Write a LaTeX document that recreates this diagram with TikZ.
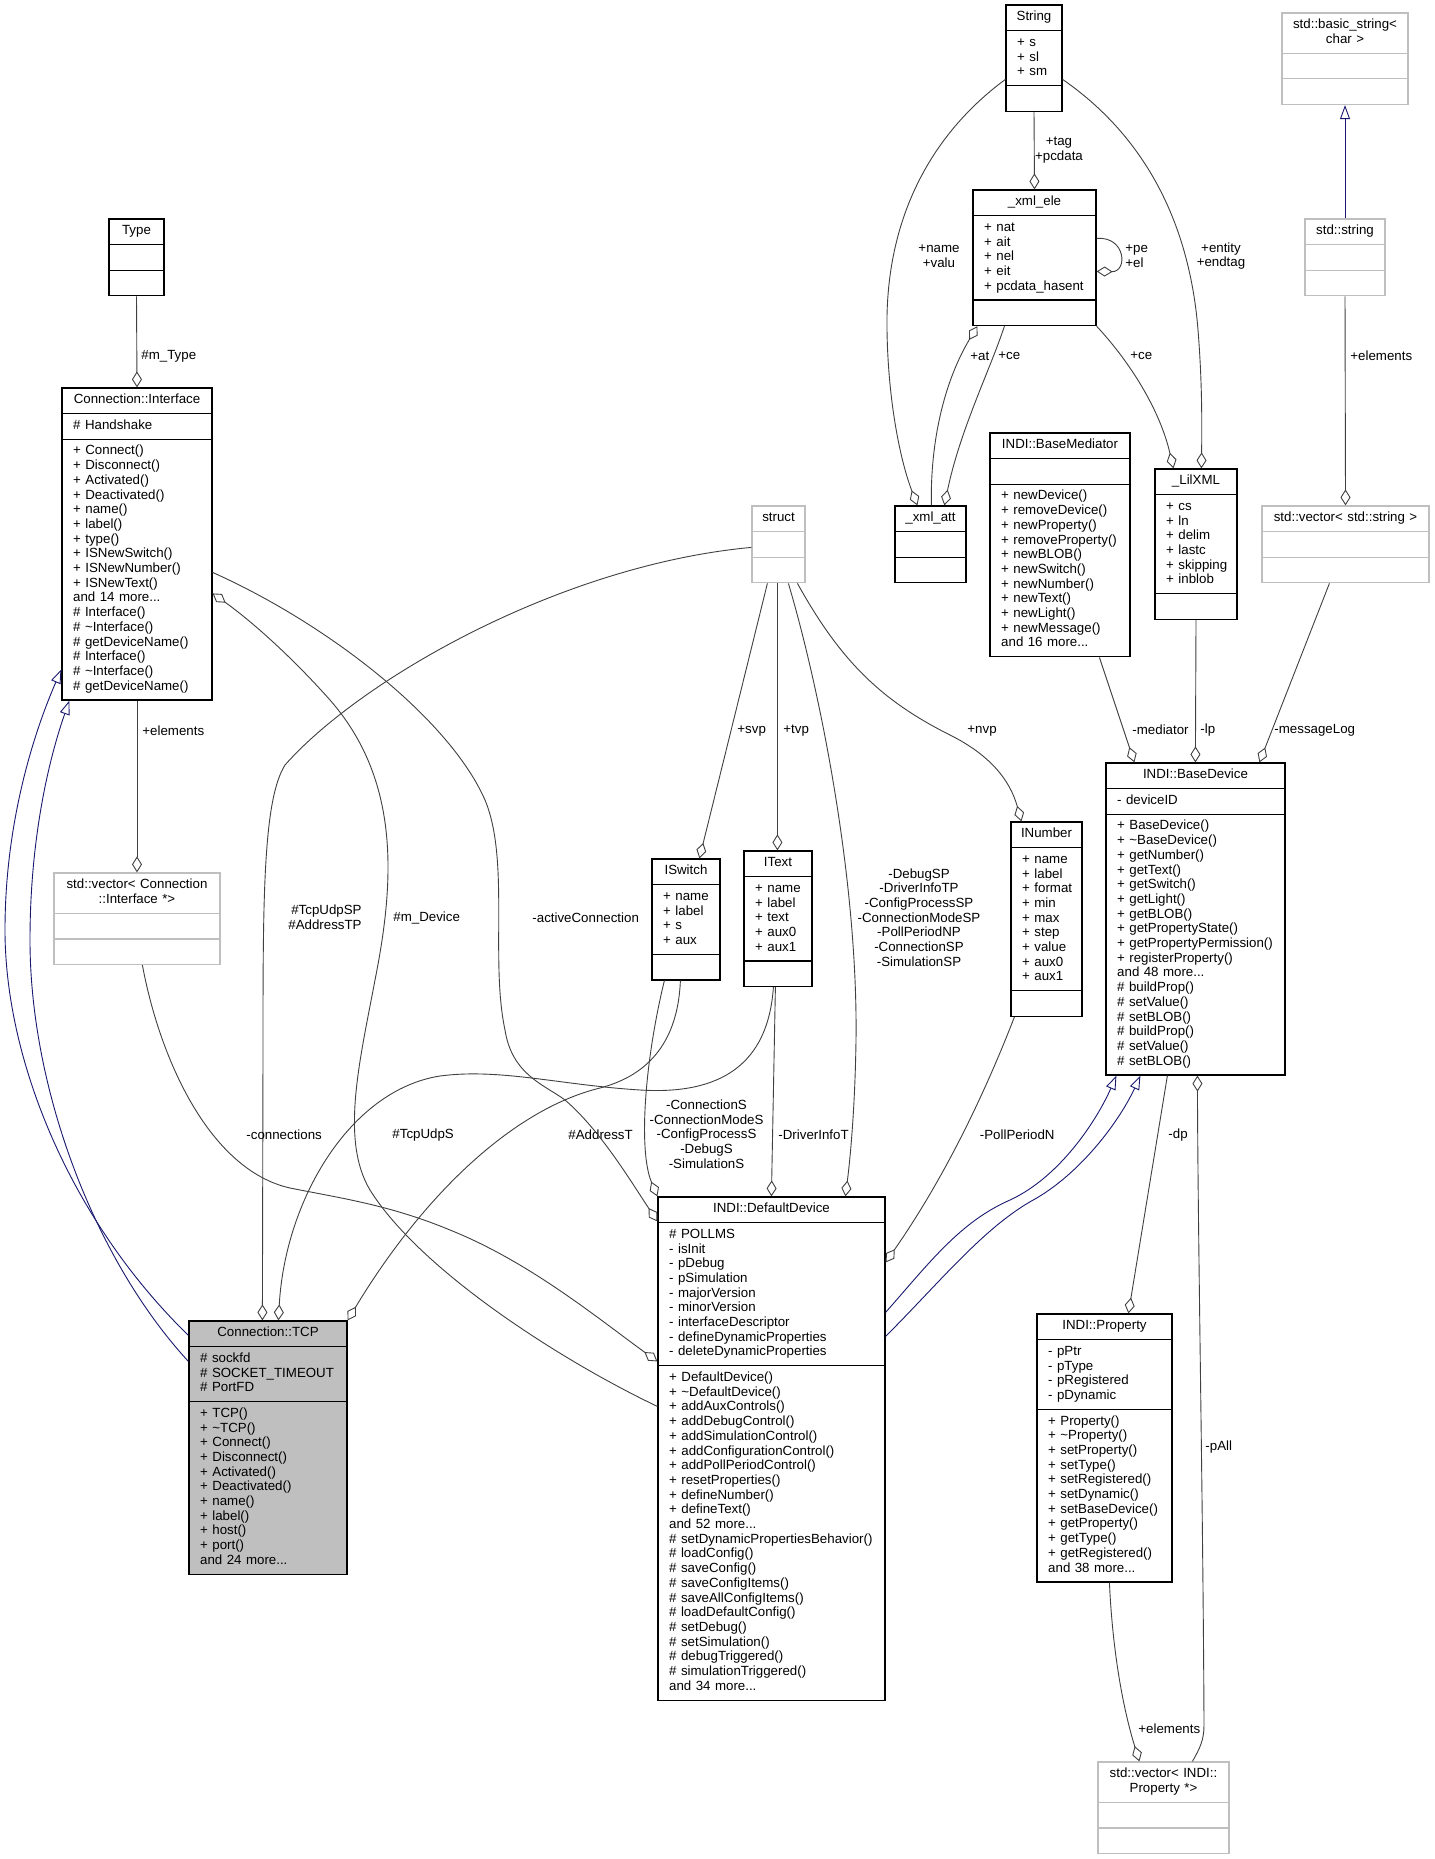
\documentclass[tikz,border=0pt]{standalone}
\usepackage{fontspec}
\setmainfont{Liberation Sans}
\usetikzlibrary{arrows.meta,calc,fit}

\definecolor{edgegray}{HTML}{404040}
\definecolor{inhblue}{HTML}{191970}
\definecolor{extgray}{HTML}{BFBFBF}

\pgfdeclarelayer{bg}
\pgfdeclarelayer{frames}
\pgfsetlayers{bg,frames,main}

\tikzset{
  every node/.style={font={\fontsize{13.3}{14.7}\selectfont\lineskiplimit=-100pt}},
  umlhead/.style={anchor=north, align=center, inner xsep=4pt, inner ysep=5.25pt,
    execute at begin node=\strut, execute at end node=\strut},
  umlpart/.style={anchor=north west, align=left, inner xsep=11pt, inner ysep=5.25pt,
    execute at begin node=\strut, execute at end node=\strut},
  umlbox/.style={draw=black, line width=1.2pt},
  extbox/.style={draw=extgray},
  focusbox/.style={fill=extgray},
  lbl/.style={inner sep=0pt},
  agg/.style={draw=edgegray, line width=0.9pt, -{Diamond[open,length=16pt,width=10pt]}},
  inh/.style={draw=inhblue, line width=0.9pt, -{Triangle[open,length=14pt,width=10pt]}}
}

\newcommand{\umlclass}[7][]{%
  \coordinate (#2-nw) at #3;
  \node[umlhead, text width={#4-8}] (#2-h) at ($(#2-nw)+(#4/2,0)$) {#5};
  \node[umlpart, text width={#4}] (#2-a) at (#2-nw |- #2-h.south) {#6};
  \node[umlpart, text width={#4}] (#2-m) at (#2-nw |- #2-a.south) {#7};
  \coordinate (#2-se) at ($(#2-nw |- #2-m.south)+(#4,0)$);
  \begin{pgfonlayer}{frames}
    \node[umlbox,#1,inner sep=0pt,fit=(#2-nw)(#2-se)] (#2) {};
  \end{pgfonlayer}
  \draw[umlbox,#1,fill=none] (#2-nw |- #2-a.north) -- +(#4,0) (#2-nw |- #2-m.north) -- +(#4,0);
}

\begin{document}
\begin{tikzpicture}[x=1pt,y=-1pt]
\begin{pgfonlayer}{bg}
\fill[white] (0,0) rectangle (1434,1859);
\end{pgfonlayer}
\useasboundingbox (0,0) rectangle (1434,1859);

\umlclass{type}{(109,219)}{55}{Type}{}{}
\umlclass{iface}{(62,388)}{150}{Connection::Interface}{\# Handshake}{+ Connect()\\+ Disconnect()\\+ Activated()\\+ Deactivated()\\+ name()\\+ label()\\+ type()\\+ ISNewSwitch()\\+ ISNewNumber()\\+ ISNewText()\\and 14 more...\\\# Interface()\\\# \textasciitilde Interface()\\\# getDeviceName()\\\# Interface()\\\# \textasciitilde Interface()\\\# getDeviceName()}
\umlclass[extbox]{ifacevec}{(54,873)}{166}{std::vector< Connection\\::Interface *>}{}{}
\umlclass[focusbox]{tcp}{(189,1321)}{158}{Connection::TCP}{\# sockfd\\\# SOCKET\_TIMEOUT\\\# PortFD}{+ TCP()\\+ \textasciitilde TCP()\\+ Connect()\\+ Disconnect()\\+ Activated()\\+ Deactivated()\\+ name()\\+ label()\\+ host()\\+ port()\\and 24 more...}
\umlclass{string}{(1006,5)}{56}{String}{+ s\\+ sl\\+ sm}{}
\umlclass{xmlele}{(973,190)}{123}{\_xml\_ele}{+ nat\\+ ait\\+ nel\\+ eit\\+ pcdata\_hasent}{}
\umlclass{xmlatt}{(895,506)}{71}{\_xml\_att}{}{}
\umlclass[extbox]{struct}{(752,506)}{53}{struct}{}{}
\umlclass{mediator}{(990,433)}{140}{INDI::BaseMediator}{}{+ newDevice()\\+ removeDevice()\\+ newProperty()\\+ removeProperty()\\+ newBLOB()\\+ newSwitch()\\+ newNumber()\\+ newText()\\+ newLight()\\+ newMessage()\\and 16 more...}
\umlclass{lilxml}{(1155,469)}{82}{\_LilXML}{+ cs\\+ ln\\+ delim\\+ lastc\\+ skipping\\+ inblob}{}
\umlclass[extbox]{basicstr}{(1282,13)}{126}{std::basic\_string<\\char >}{}{}
\umlclass[extbox]{stdstr}{(1305,219)}{80}{std::string}{}{}
\umlclass[extbox]{strvec}{(1262,506)}{167}{std::vector< std::string >}{}{}
\umlclass{iswitch}{(652,859)}{68}{ISwitch}{+ name\\+ label\\+ s\\+ aux}{}
\umlclass{itext}{(744,851)}{68}{IText}{+ name\\+ label\\+ text\\+ aux0\\+ aux1}{}
\umlclass{inumber}{(1011,822)}{71}{INumber}{+ name\\+ label\\+ format\\+ min\\+ max\\+ step\\+ value\\+ aux0\\+ aux1}{}
\umlclass{basedev}{(1106,763)}{179}{INDI::BaseDevice}{- deviceID}{+ BaseDevice()\\+ \textasciitilde BaseDevice()\\+ getNumber()\\+ getText()\\+ getSwitch()\\+ getLight()\\+ getBLOB()\\+ getPropertyState()\\+ getPropertyPermission()\\+ registerProperty()\\and 48 more...\\\# buildProp()\\\# setValue()\\\# setBLOB()\\\# buildProp()\\\# setValue()\\\# setBLOB()}
\umlclass{defdev}{(658,1197)}{227}{INDI::DefaultDevice}{\# POLLMS\\- isInit\\- pDebug\\- pSimulation\\- majorVersion\\- minorVersion\\- interfaceDescriptor\\- defineDynamicProperties\\- deleteDynamicProperties}{+ DefaultDevice()\\+ \textasciitilde DefaultDevice()\\+ addAuxControls()\\+ addDebugControl()\\+ addSimulationControl()\\+ addConfigurationControl()\\+ addPollPeriodControl()\\+ resetProperties()\\+ defineNumber()\\+ defineText()\\and 52 more...\\\# setDynamicPropertiesBehavior()\\\# loadConfig()\\\# saveConfig()\\\# saveConfigItems()\\\# saveAllConfigItems()\\\# loadDefaultConfig()\\\# setDebug()\\\# setSimulation()\\\# debugTriggered()\\\# simulationTriggered()\\and 34 more...}
\umlclass{property}{(1037,1314)}{135}{INDI::Property}{- pPtr\\- pType\\- pRegistered\\- pDynamic}{+ Property()\\+ \textasciitilde Property()\\+ setProperty()\\+ setType()\\+ setRegistered()\\+ setDynamic()\\+ setBaseDevice()\\+ getProperty()\\+ getType()\\+ getRegistered()\\and 38 more...}
\umlclass[extbox]{propvec}{(1098,1762)}{131}{std::vector< INDI::\\Property *>}{}{}

\draw[agg] (type.south) -- (iface.north) node[lbl,anchor=west] at (141,356) {\#m\_Type};
\draw[agg] (iface.south) -- (ifacevec.north) node[lbl,anchor=west] at (142,731) {+elements};
\draw[inh] ([yshift=-15pt]tcp.north west) .. controls (70,1220) and (5,1060) .. (5,930) .. controls (5,820) and (35,730) .. ([yshift=-282pt]iface.north west);
\draw[inh] ([yshift=-41pt]tcp.north west) .. controls (95,1260) and (30,1090) .. (30,940) .. controls (30,830) and (52,750) .. ([xshift=8pt]iface.south west);

\draw[agg] ([yshift=-42pt]struct.north west) .. controls (560,565) and (360,680) .. (285,765) .. controls (263,800) and (263,900) .. (263,1050) -- ([xshift=74pt]tcp.north west) node[lbl,anchor=east,align=right] at (362,917) {\#TcpUdpSP\\\#AddressTP};
\draw[agg] ([xshift=30pt]itext.south west) .. controls (768,1065) and (720,1095) .. (640,1090) .. controls (560,1085) and (500,1068) .. (440,1076) .. controls (350,1090) and (285,1200) .. ([xshift=90pt]tcp.north west) node[lbl,anchor=west] at (568,1135) {\#AddressT};
\draw[agg] ([xshift=29pt]iswitch.south west) .. controls (678,1040) and (650,1075) .. (600,1088) .. controls (510,1110) and (420,1200) .. (tcp.north east) node[lbl,anchor=west] at (392,1135) {\#TcpUdpS};
\draw[agg] ([xshift=13pt]iswitch.south west) .. controls (645,1060) and (638,1150) .. (defdev.north west) node[lbl,align=center] at (706.5,1134) {-ConnectionS\\-ConnectionModeS\\-ConfigProcessS\\-DebugS\\-SimulationS};
\draw[agg] ([xshift=32pt]itext.south west) -- ([xshift=114pt]defdev.north west) node[lbl,anchor=west] at (778,1135) {-DriverInfoT};
\draw[agg] ([xshift=37pt]struct.south west) .. controls (820,690) and (858,880) .. (856,1040) .. controls (855,1110) and (850,1160) .. ([xshift=188pt]defdev.north west) node[lbl,align=center] at (919,917.5) {-DebugSP\\-DriverInfoTP\\-ConfigProcessSP\\-ConnectionModeSP\\-PollPeriodNP\\-ConnectionSP\\-SimulationSP};
\draw[agg] ([xshift=16pt]struct.south west) -- ([xshift=48pt]iswitch.north west) node[lbl,anchor=west] at (737,731) {+svp};
\draw[agg] ([xshift=26pt]struct.south west) -- ([xshift=34pt]itext.north west) node[lbl,anchor=west] at (783,731) {+tvp};
\draw[agg] ([xshift=46pt]struct.south west) .. controls (840,660) and (880,700) .. (950,735) .. controls (990,755) and (1010,780) .. ([xshift=11pt]inumber.north west) node[lbl,anchor=west] at (967,731) {+nvp};
\draw[agg] ([xshift=4pt]inumber.south west) .. controls (990,1080) and (950,1170) .. ([yshift=-66pt]defdev.north east) node[lbl,anchor=east] at (1055,1135) {-PollPeriodN};

\draw[agg] ([yshift=-185pt]iface.north east) .. controls (330,625) and (450,720) .. (485,800) .. controls (510,860) and (490,960) .. (505,1030) .. controls (512,1075) and (545,1085) .. (565,1100) .. controls (600,1130) and (630,1180) .. ([yshift=-25pt]defdev.north west) node[lbl,anchor=west] at (532,917.5) {-activeConnection};
\draw[agg] ([yshift=-210pt]defdev.north west) .. controls (560,1360) and (420,1270) .. (370,1190) .. controls (340,1140) and (360,1060) .. (375,980) .. controls (395,880) and (400,780) .. (330,700) .. controls (290,655) and (250,620) .. ([yshift=-206pt]iface.north east) node[lbl,anchor=west] at (393,917.5) {\#m\_Device};
\draw[agg] ([xshift=89pt]ifacevec.south west) .. controls (160,1060) and (210,1170) .. (290,1188) .. controls (340,1198) and (390,1205) .. (450,1230) .. controls (530,1262) and (600,1320) .. ([yshift=-165pt]defdev.north west) node[lbl,anchor=west] at (246,1135) {-connections};

\draw[inh] ([yshift=-116pt]defdev.north east) .. controls (930,1262) and (960,1222) .. (1010,1200) .. controls (1060,1177) and (1097,1120) .. ([xshift=11pt]basedev.south west);
\draw[inh] ([yshift=-140pt]defdev.north east) .. controls (940,1282) and (985,1226) .. (1035,1199) .. controls (1082,1172) and (1120,1120) .. ([xshift=35pt]basedev.south west);
\draw[agg] ([xshift=62pt]basedev.south west) -- ([xshift=92pt]property.north west) node[lbl,anchor=west] at (1168,1135) {-dp};
\draw[agg] ([xshift=95pt]propvec.north west) .. controls (1200,1748) and (1204,1740) .. (1204,1725) .. controls (1203,1500) and (1198,1250) .. ([xshift=92pt]basedev.south west) node[lbl,anchor=west] at (1205,1447) {-pAll};
\draw[agg] ([xshift=73pt]property.south west) .. controls (1113,1660) and (1125,1715) .. ([xshift=42pt]propvec.north west) node[lbl,anchor=west] at (1138,1728.5) {+elements};

\draw[agg] ([xshift=110pt]mediator.south west) -- ([xshift=29pt]basedev.north west) node[lbl,anchor=west] at (1132,730) {-mediator};
\draw[agg] (lilxml.south) -- ([xshift=90pt]basedev.north west) node[lbl,anchor=west] at (1200,730) {-lp};
\draw[agg] ([xshift=68pt]strvec.south west) -- ([xshift=154pt]basedev.north west) node[lbl,anchor=west] at (1274,730) {-messageLog};
\draw[agg] (stdstr.south) -- (strvec.north) node[lbl,anchor=west] at (1350,356) {+elements};
\draw[inh] (stdstr.north) -- (basicstr.south);

\draw[agg] (string.south) -- (xmlele.north) node[lbl,align=center] at (1059,150) {+tag\\+pcdata};
\draw[agg] ([yshift=-75pt]string.north west) .. controls (930,135) and (885,220) .. (887,330) .. controls (888,400) and (900,460) .. ([xshift=23pt]xmlatt.north west) node[lbl,align=center] at (939,256) {+name\\+valu};
\draw[agg] ([xshift=37pt]xmlatt.north west) .. controls (930,440) and (945,380) .. ([xshift=5pt]xmlele.south west) node[lbl,anchor=west] at (970,356) {+at};
\draw[agg] ([xshift=32pt]xmlele.south west) .. controls (990,370) and (960,430) .. ([xshift=50pt]xmlatt.north west) node[lbl,anchor=west] at (998,356) {+ce};
\draw[agg] ([yshift=-49pt]xmlele.north east) .. controls (1126,236) and (1128,272) .. ([yshift=-82pt]xmlele.north east) node[lbl,anchor=west,align=left] at (1125,256) {+pe\\+el};
\draw[agg] (xmlele.south east) .. controls (1130,362) and (1160,410) .. ([xshift=19pt]lilxml.north west) node[lbl,anchor=west] at (1130,356) {+ce};
\draw[agg] ([yshift=-75pt]string.north east) .. controls (1150,140) and (1190,230) .. (1198,330) .. controls (1202,380) and (1202,420) .. ([xshift=47pt]lilxml.north west) node[lbl,align=center] at (1221,256) {+entity\\+endtag};
\end{tikzpicture}
\end{document}
